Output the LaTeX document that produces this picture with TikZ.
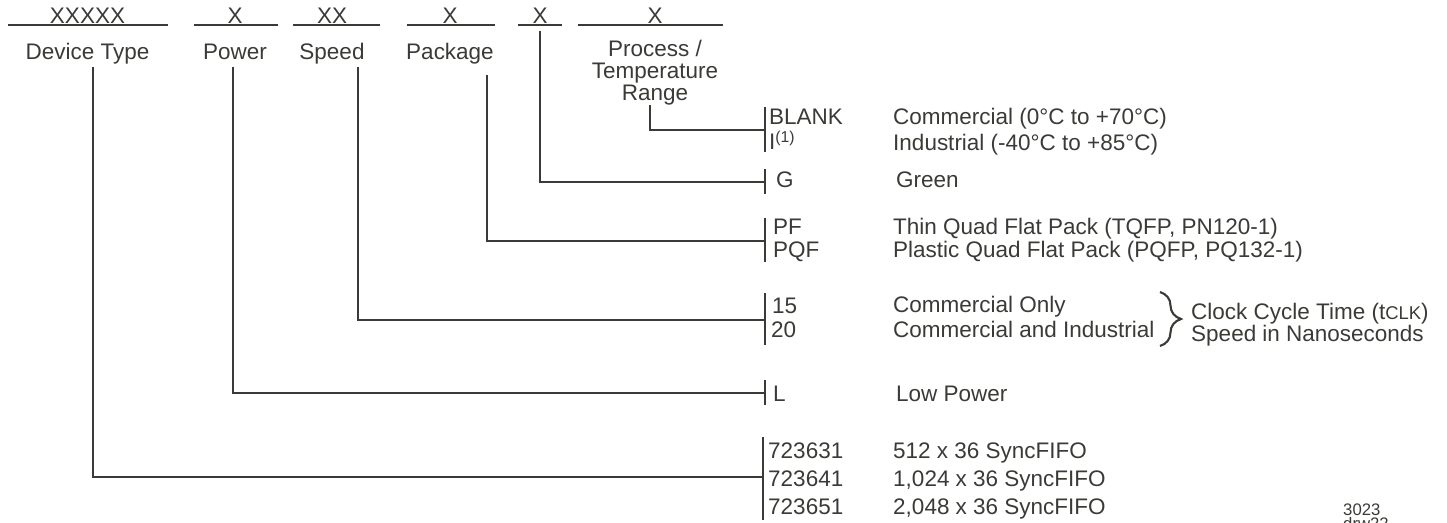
\documentclass[tikz,border=0pt]{standalone}
\usepackage{fontspec}
\setmainfont{Liberation Sans}
\usetikzlibrary{decorations.pathreplacing}
\definecolor{inkgray}{RGB}{58,58,54}
\tikzset{
  field/.style={inner sep=0pt, anchor=base, font=\fontsize{12.8}{12.5}\selectfont},
  code/.style={inner sep=0pt, anchor=base west, font=\fontsize{12.8}{15}\selectfont},
}
\begin{document}
\begin{tikzpicture}[x=0.02cm, y=-0.02cm, inkgray, line width=1.4pt]
    \useasboundingbox (0,0) rectangle (1447,523);

    % Blanks of the part number
    \draw (8,25) -- (168,25);
    \node[field] (xdev) at (87.5,23.5) {XXXXX};
    \draw (194,25) -- (278,25);
    \node[field] (xpow) at (235,23.5) {X};
    \draw (293,25) -- (380,25);
    \node[field] (xspd) at (332,23.5) {XX};
    \draw (407,25) -- (495,25);
    \node[field] (xpkg) at (450,23.5) {X};
    \draw (518,25) -- (562,25);
    \node[field] (xgrn) at (540,23.5) {X};
    \draw (578,25) -- (723,25);
    \node[field] (xtmp) at (655,23.5) {X};

    % Field names
    \node[field] (ldev) at (87.5,60) {Device Type};
    \node[field] (lpow) at (235,60) {Power};
    \node[field] (lspd) at (332,60) {Speed};
    \node[field] (lpkg) at (450,60) {Package};
    \node[field, align=center, anchor=north] (ltmp) at (655,39) {Process /\\Temperature\\Range};

    % Ends of the leaders
    \coordinate (tdev) at (93,67);
    \coordinate (tpow) at (233,67);
    \coordinate (tspd) at (358,67);
    \coordinate (tpkg) at (487,75);
    \coordinate (tgrn) at (540,31);
    \coordinate (ttmp) at (650,105);
    \coordinate (ktmp) at (765,130);
    \coordinate (kgrn) at (765,182);
    \coordinate (kpkg) at (765,241);
    \coordinate (kspd) at (765,320);
    \coordinate (kpow) at (765,393);
    \coordinate (kdev) at (763,477);

    % Leaders
    \draw (ttmp) |- (ktmp);
    \draw (tgrn) |- (kgrn);
    \draw (tpkg) |- (kpkg);
    \draw (tspd) |- (kspd);
    \draw (tpow) |- (kpow);
    \draw (tdev) |- (kdev);

    % Bars
    \draw (ktmp) ++(0,-23) -- ++(0,45);
    \draw (kgrn) ++(0,-13) -- ++(0,25);
    \draw (kpkg) ++(0,-23) -- ++(0,44);
    \draw (kspd) ++(0,-27) -- ++(0,52);
    \draw (kpow) ++(0,-13) -- ++(0,25);
    \draw (kdev) ++(0,-40) -- ++(0,83);

    % Codes
    \node[code] (cblank) at (768,125) {BLANK};
    \node[code] (cind) at (768,150) {I\textsuperscript{(1)}};
    \node[code] (cg) at (775,188) {G};
    \node[code] (cpf) at (772,235) {PF};
    \node[code] (cpqf) at (772,258) {PQF};
    \node[code] (c15) at (771,314) {15};
    \node[code] (c20) at (770,338) {20};
    \node[code] (cl) at (772,401) {L};
    \node[code] (c631) at (767,459) {723631};
    \node[code] (c641) at (767,486) {723641};
    \node[code] (c651) at (767,514) {723651};

    % Meanings
    \node[code] (dcom) at (892,125) {Commercial (0°C to +70°C)};
    \node[code] (dind) at (892,151) {Industrial (-40°C to +85°C)};
    \node[code] (dg) at (895,188) {Green};
    \node[code] (dpf) at (892,235) {Thin Quad Flat Pack (TQFP, PN120-1)};
    \node[code] (dpqf) at (892,258) {Plastic Quad Flat Pack (PQFP, PQ132-1)};
    \node[code] (d15) at (892,313) {Commercial Only};
    \node[code] (d20) at (892,338) {Commercial and Industrial};
    \node[code] (dl) at (895,401) {Low Power};
    \node[code] (d631) at (892,459) {512 x 36 SyncFIFO};
    \node[code] (d641) at (892,486) {1,024 x 36 SyncFIFO};
    \node[code] (d651) at (892,514) {2,048 x 36 SyncFIFO};

    % Speed note
    \draw[line width=1.2pt, decorate, decoration={brace, amplitude=0.42cm}] (1160,292) -- (1160,346);
    \node[code] (nclk) at (1190,320) {Clock Cycle Time (t{\fontsize{10.5}{12}\selectfont CLK})};
    \node[code] (nspd) at (1190,342) {Speed in Nanoseconds};

    % Drawing number
    \node[code, font=\fontsize{9.5}{11}\selectfont] (drw) at (1342,515) {3023};
    \node[code, font=\fontsize{9.5}{11}\selectfont] (drwb) at (1342,529) {drw22};
\end{tikzpicture}
\end{document}
